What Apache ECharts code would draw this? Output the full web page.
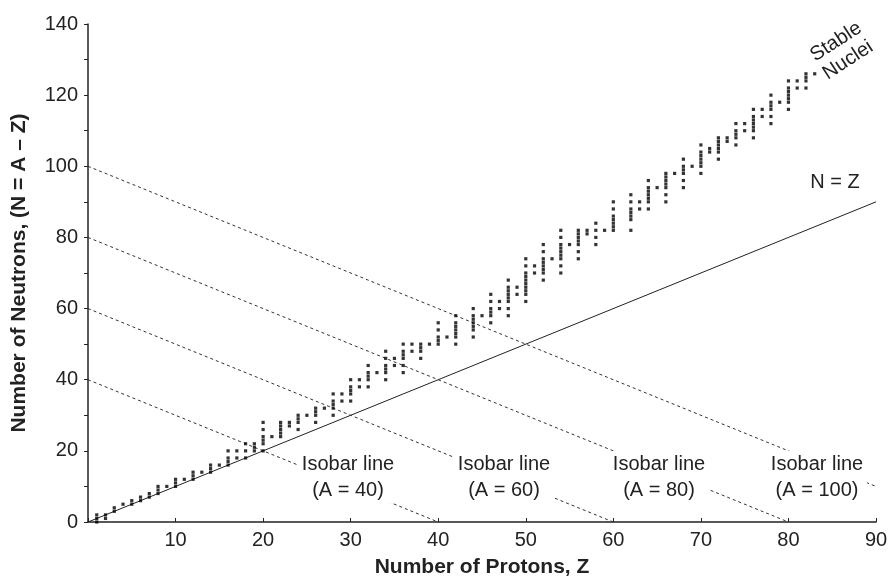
<!DOCTYPE html>
<html><head><meta charset="utf-8">
<script src="https://cdn.jsdelivr.net/npm/echarts@6/dist/echarts.min.js"></script>
<style>html,body{margin:0;padding:0;background:#fff}#c{width:890px;height:580px}</style>
</head><body><div id="c"></div>
<script>
// Stable nuclei: proton number Z and list of stable neutron numbers N
const protonNumbers = [1,2,3,4,5,6,7,8,9,10,11,12,13,14,15,16,17,18,19,20,21,22,23,24,25,26,27,28,29,30,31,32,33,34,35,36,37,38,39,40,41,42,44,45,46,47,48,49,50,51,52,53,54,55,56,57,58,59,60,62,63,64,65,66,67,68,69,70,71,72,73,74,75,76,77,78,79,80,81,82,83];
const neutronNumbers = [
  [0,1,2],[1,2],[3,4],[5],[5,6],[6,7],[7,8],[8,9,10],[10],[10,11,12],
  [12],[12,13,14],[14],[14,15,16],[16],[16,17,18,20],[18,20],[18,20,22],[20,21,22],[20,22,23,24,26,28],
  [24],[24,25,26,27,28],[27,28],[26,28,29,30],[30],[28,30,31,32],[32],[30,32,33,34,36],[34,36],[34,36,37,38,40],
  [38,40],[38,40,41,42,44],[42],[40,42,43,44,46,48],[44,46],[42,44,46,47,48,50],[48,50],[46,48,49,50],[50],[50,51,52,54,56],
  [52],[50,52,53,54,55,56,58],[52,54,55,56,57,58,60],[58],[56,58,59,60,62,64],[60,62],[58,60,62,63,64,65,66,68],[64,66],[62,64,65,66,67,68,69,70,72,74],[70,72],
  [68,70,71,72,73,74,76,78],[74],[70,72,74,75,76,77,78,80,82],[78],[74,76,78,79,80,81,82],[81,82],[78,80,82,84],[82],[82,83,84,85,86,88,90],[82,85,86,87,88,90,92],
  [88,90],[88,90,91,92,93,94,96],[94],[90,92,94,95,96,97,98],[98],[94,96,98,99,100,102],[100],[98,100,101,102,103,104,106],[104,105],[102,104,105,106,107,108],
  [107,108],[106,108,109,110,112],[110,112],[108,110,111,112,113,114,116],[114,116],[112,114,116,117,118,120],[118],[116,118,119,120,121,122,124],[122,124],[122,124,125,126],[126]
];
const nEqualsZLine = [[0,0],[90,90]];
const isobarA = [40, 60, 80, 100];
const isobarLines = [
  [[0,40],[40,0]],
  [[0,60],[60,0]],
  [[0,80],[80,0]],
  [[0,100],[90,10]]
];
const xTickLabels = ['', '10','20','30','40','50','60','70','80','90'];

const stablePoints = [];
protonNumbers.forEach((z, i) => neutronNumbers[i].forEach(n => stablePoints.push([z, n])));

const font = 'Liberation Sans, Arial, Helvetica, sans-serif';
const chart = echarts.init(document.getElementById('c'), null, {renderer: 'canvas'});

const series = [
  {
    type: 'scatter', data: stablePoints, symbol: 'rect', symbolSize: 3.2,
    itemStyle: {color: '#000'}, z: 3, silent: true
  },
  {
    type: 'line', data: nEqualsZLine, symbol: 'none',
    lineStyle: {color: '#222', width: 1}, z: 2, silent: true
  }
];
isobarLines.forEach(pts => series.push({
  type: 'line', data: pts, symbol: 'none',
  lineStyle: {color: '#333', width: 1, type: [3, 3]}, z: 2, silent: true
}));

const labelCenters = [[348,477],[504,477],[659,477],[817,477]];
const graphics = isobarA.map((a, i) => ({
  type: 'text', x: labelCenters[i][0], y: labelCenters[i][1], z: 100,
  style: {
    text: 'Isobar line\n(A = ' + a + ')', font: '20px ' + font, fill: '#222',
    align: 'center', verticalAlign: 'middle', lineHeight: 26,
    backgroundColor: '#fff', padding: [0, 4]
  }
}));
graphics.push({
  type: 'text', x: 835, y: 182, z: 100,
  style: {text: 'N = Z', font: '20px ' + font, fill: '#222', align: 'center', verticalAlign: 'middle'}
});
graphics.push({
  type: 'text', x: 842, y: 51, z: 100, rotation: 33 * Math.PI / 180,
  style: {text: 'Stable\nNuclei', font: '20px ' + font, fill: '#222', align: 'center', verticalAlign: 'middle', lineHeight: 22}
});

chart.setOption({
  animation: false,
  backgroundColor: '#fff',
  grid: {left: 88, right: 14, top: 24, bottom: 58, containLabel: false, outerBoundsMode: 'none'},
  xAxis: {
    type: 'value', min: 0, max: 90, interval: 10,
    name: 'Number of Protons, Z', nameLocation: 'middle', nameGap: 35,
    nameTextStyle: {fontFamily: font, fontWeight: 'bold', fontSize: 21, color: '#222'},
    axisLine: {onZero: false, lineStyle: {color: '#222', width: 1.5}},
    axisTick: {show: true, inside: true, length: 4, lineStyle: {color: '#222'}},
    axisLabel: {fontFamily: font, fontSize: 20, color: '#222', margin: 8,
      formatter: v => xTickLabels[Math.round(v / 10)] || ''},
    splitLine: {show: false}
  },
  yAxis: {
    type: 'value', min: 0, max: 140, interval: 20,
    name: 'Number of Neutrons, (N = A \u2013 Z)', nameLocation: 'middle', nameGap: 58,
    nameTextStyle: {fontFamily: font, fontWeight: 'bold', fontSize: 21, color: '#222'},
    axisLine: {show: true, onZero: false, lineStyle: {color: '#222', width: 1.5}},
    axisTick: {show: true, length: 4, lineStyle: {color: '#222'}},
    minorTick: {show: true, splitNumber: 2, length: 4, lineStyle: {color: '#222'}},
    axisLabel: {fontFamily: font, fontSize: 20, color: '#222', margin: 10},
    splitLine: {show: false}
  },
  series: series,
  graphic: graphics
});
</script></body></html>
